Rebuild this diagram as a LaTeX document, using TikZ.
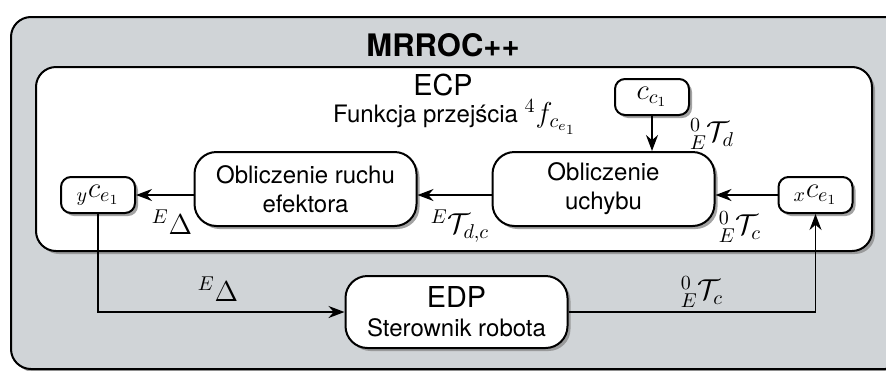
\documentclass[12pt,tikz,border=0pt]{standalone}
\usepackage{fontspec}
\setmainfont{TeX Gyre Heros}
\usepackage{xcolor}
\usepackage{amssymb}
\usetikzlibrary{arrows.meta, positioning, shadows}
\definecolor{tlo}{RGB}{208,212,215}
\tikzset{
  cien/.style={drop shadow={shadow xshift=1.5pt, shadow yshift=-1.5pt, fill=black!45, opacity=0.8}},
  ramka/.style={draw=black, line width=1pt, rounded corners=10pt, cien},
  blok/.style={rectangle, rounded corners=11pt, draw=black, line width=1pt, fill=white, align=center, minimum width=111pt, minimum height=37pt, inner sep=2pt, cien},
  maly/.style={rectangle, rounded corners=5pt, draw=black, line width=1pt, fill=white, minimum width=37pt, minimum height=18pt, inner sep=1pt, font=\large, cien},
  etyk/.style={font=\large},
  strz/.style={-{Stealth[length=8pt, width=6pt]}, line width=0.9pt},
}
\begin{document}
\begin{tikzpicture}[x=0.5pt, y=-0.5pt]
\useasboundingbox (0,0) rectangle (886,370);
\draw[ramka, fill=tlo] (11,17) rectangle (905,369);
\node[font=\fontsize{15.5}{18}\selectfont\bfseries] (mrroc) at (443,45) {MRROC++};
\draw[ramka, fill=white] (36,67) rectangle (872,251);
\node[font=\large] (ecp) at (443,85) {ECP};
\node (fun) at (455,117) {Funkcja przejścia {\large${}^4f_{c_{e_1}}$}};
\node[blok] (uchyb) at (603.5,189) {Obliczenie\\uchybu};
\node[blok, left=37pt of uchyb] (ruch) {Obliczenie ruchu\\efektora};
\node[maly] (cc) at (652,97) {$c_{c_1}$};
\node[maly] (yc) at (98,195) {${}_{y}c_{e_1}$};
\node[maly] (xc) at (815.5,195) {${}_{x}c_{e_1}$};
\node[blok, minimum height=36pt] (edp) at (456.5,312) {{\large EDP}\\Sterownik robota};
\draw[strz] (cc) -- (cc |- uchyb.north);
\draw[strz] (xc) -- (xc -| uchyb.east);
\draw[strz] (xc -| uchyb.west) -- (xc -| ruch.east);
\draw[strz] (xc -| ruch.west) -- (yc);
\draw[strz] (yc) |- (edp);
\draw[strz] (edp) -| (xc);
% etykiety
\node[etyk] (td) at (712,134) {${}^0_E\mathcal{T}_d$};
\node[etyk] (dy) at (172,222) {${}^E\Delta$};
\node[etyk] (tdc) at (460,226) {${}^E\mathcal{T}_{d,c}$};
\node[etyk] (tc) at (740,227) {${}^0_E\mathcal{T}_c$};
\node[etyk] (de) at (218,289) {${}^E\Delta$};
\node[etyk] (tce) at (702,292) {${}^0_E\mathcal{T}_c$};
\end{tikzpicture}
\end{document}
